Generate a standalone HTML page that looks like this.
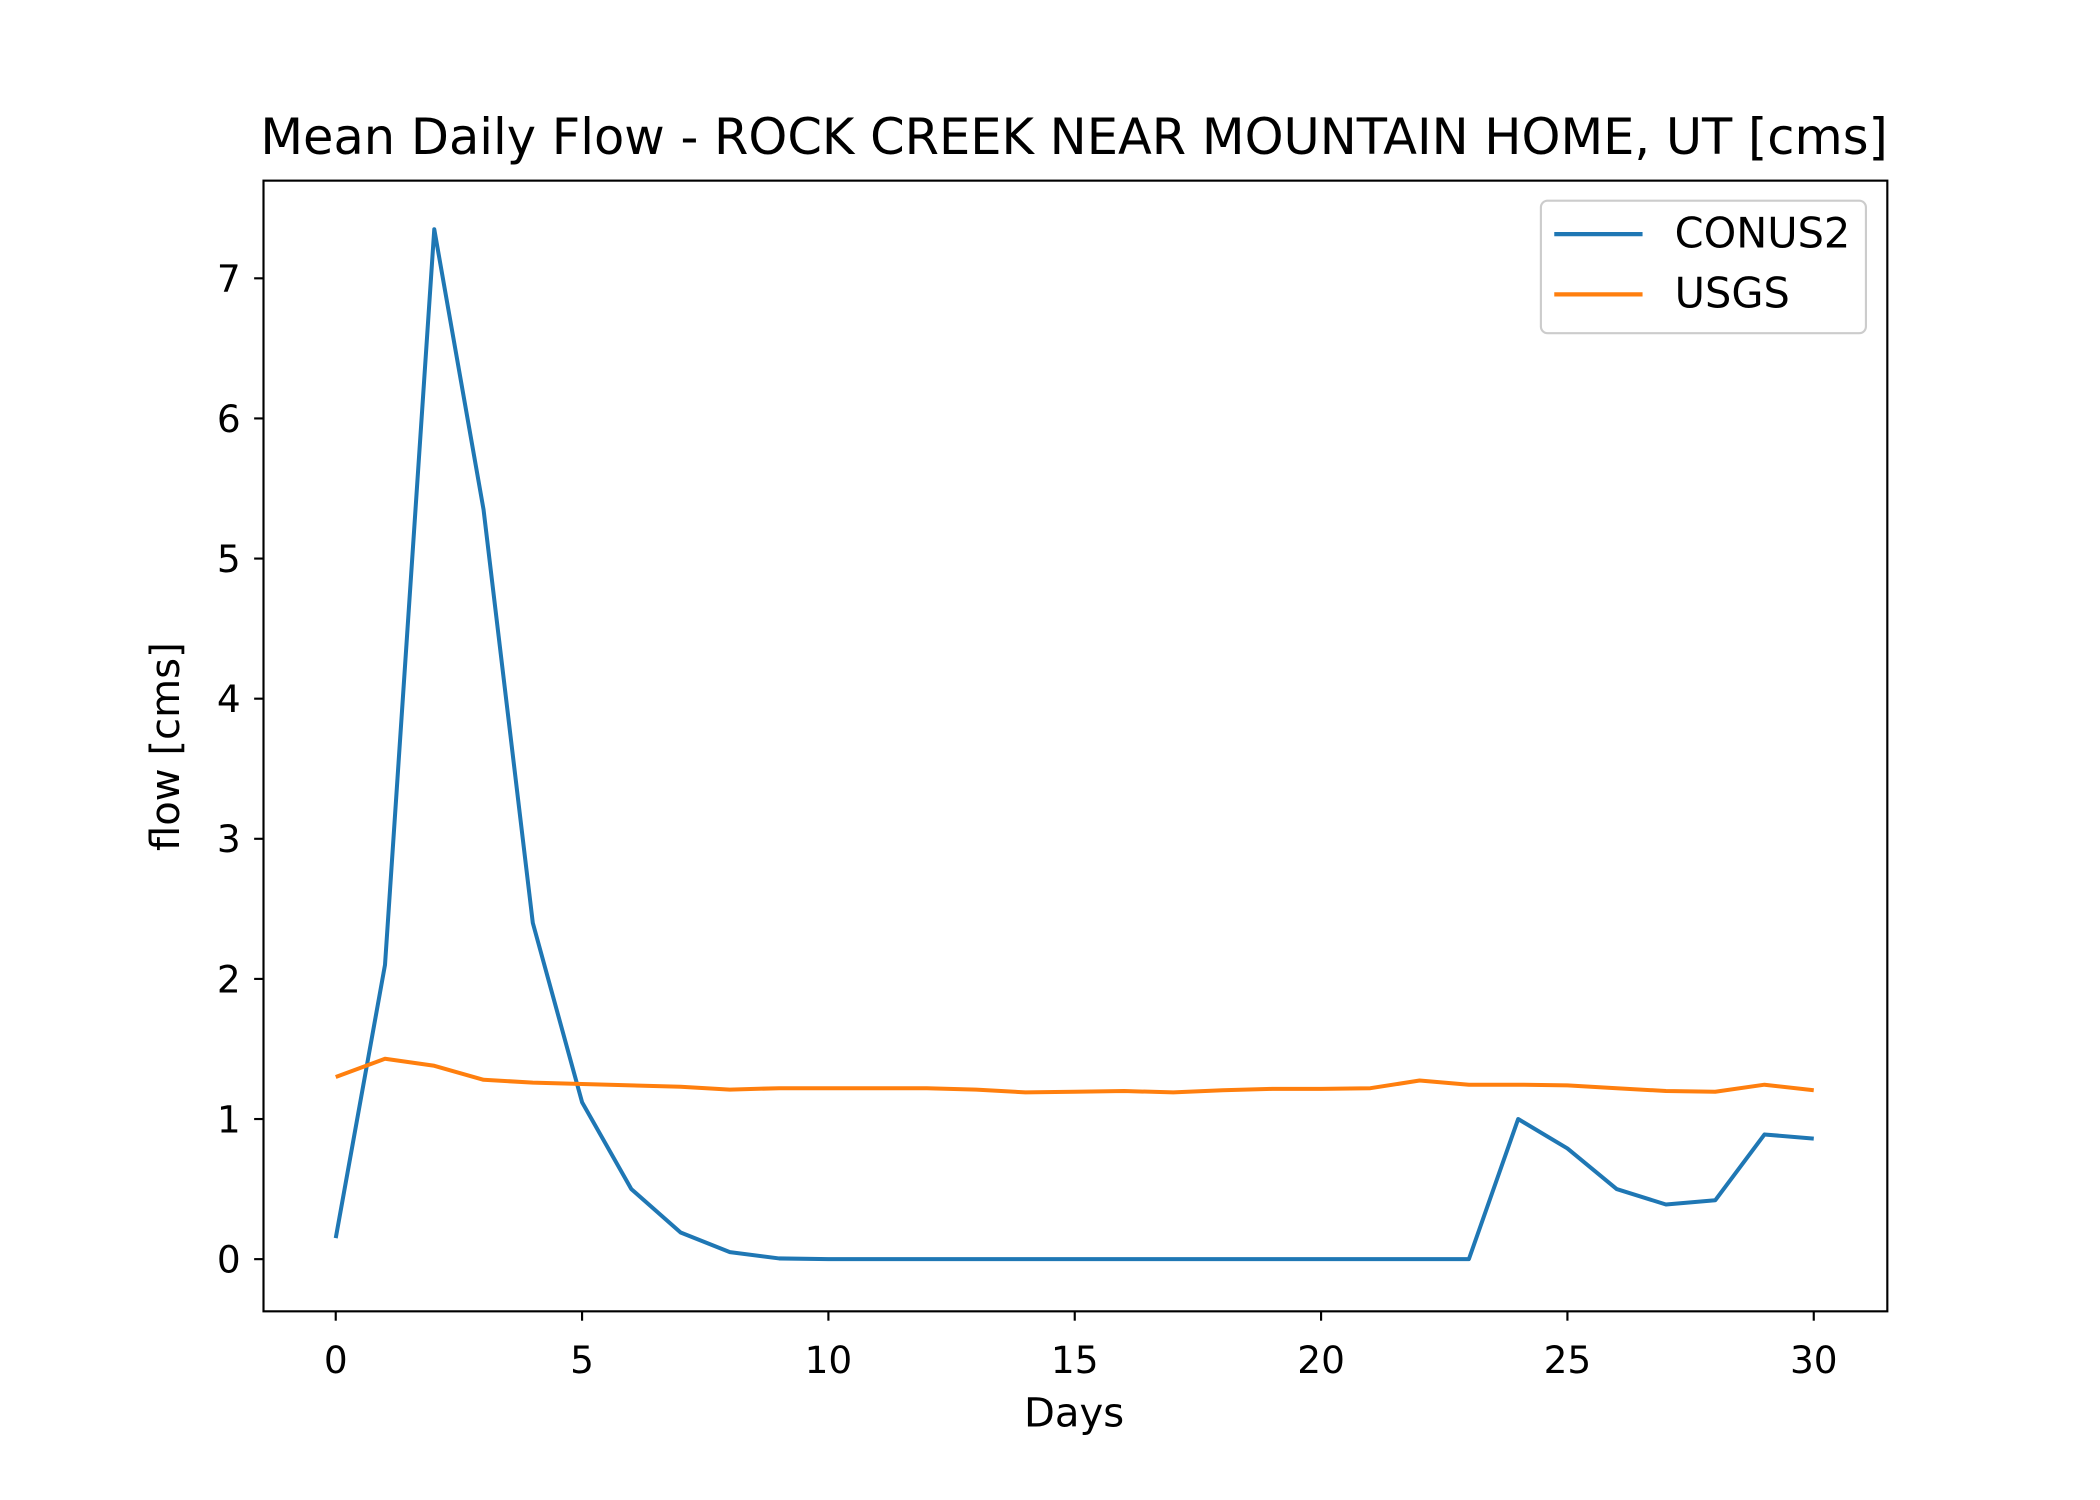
<!DOCTYPE html>
<html><head><meta charset="utf-8"><style>html,body{margin:0;padding:0;background:#fff}svg{display:block}text{font-family:"DejaVu Sans","Liberation Sans",sans-serif;fill:#000}</style></head>
<body>
<svg id="chart" width="2100" height="1500" viewBox="0 0 1570 1121" preserveAspectRatio="none" xmlns="http://www.w3.org/2000/svg">
<rect width="1570" height="1121" fill="#fff"/>
<text x="803" y="115" font-size="37" text-anchor="middle">Mean Daily Flow - ROCK CREEK NEAR MOUNTAIN HOME, UT [cms]</text>
<g id="marks"></g>
<rect x="197" y="135" width="1214" height="845" fill="none" stroke="#000" stroke-width="1.6"/>
<g id="axes"></g>
<text x="803" y="1066" font-size="30" text-anchor="middle">Days</text>
<text transform="translate(134,558) rotate(-90)" font-size="30" text-anchor="middle">flow [cms]</text>
<g>
<rect x="1152" y="150" width="243" height="99" rx="5" fill="#fff" fill-opacity="0.8" stroke="#ccc" stroke-width="1.6"/>
<line x1="1162" y1="175" x2="1228" y2="175" stroke="#1f77b4" stroke-width="3.2"/>
<text x="1252" y="185" font-size="31">CONUS2</text>
<line x1="1162" y1="220" x2="1228" y2="220" stroke="#ff7f0e" stroke-width="3.2"/>
<text x="1252" y="230" font-size="31">USGS</text>
</g>
</svg>
<script>
const days = Array.from({length:31},(_,i)=>i);
const conus2 = [0.15,2.1,7.35,5.35,2.4,1.12,0.5,0.19,0.05,0.005,0,0,0,0,0,0,0,0,0,0,0,0,0,0,1.0,0.79,0.5,0.39,0.42,0.89,0.86];
const usgs = [1.30,1.43,1.38,1.28,1.26,1.25,1.24,1.23,1.21,1.22,1.22,1.22,1.22,1.21,1.19,1.195,1.2,1.19,1.205,1.215,1.215,1.22,1.275,1.245,1.245,1.24,1.22,1.20,1.195,1.245,1.205];
const xTicks = [0,5,10,15,20,25,30];
const yTicks = [0,1,2,3,4,5,6,7];
const X = v => 251 + v*(1356-251)/30;
const Y = v => 941 - v*(941-208)/7;
const NS='http://www.w3.org/2000/svg';
const marks=document.getElementById('marks'), axes=document.getElementById('axes');
function line(vals,color,name){
  const p=document.createElementNS(NS,'polyline');
  p.setAttribute('points',vals.map((v,i)=>X(days[i])+','+Y(v)).join(' '));
  p.setAttribute('fill','none');p.setAttribute('stroke',color);p.setAttribute('stroke-width','3');p.setAttribute('stroke-linejoin','round');
  
  
  marks.appendChild(p);
}
line(conus2,'#1f77b4','conus2-line');
line(usgs,'#ff7f0e','usgs-line');
xTicks.forEach(t=>{
  const l=document.createElementNS(NS,'line');
  l.setAttribute('x1',X(t));l.setAttribute('x2',X(t));l.setAttribute('y1',980);l.setAttribute('y2',987);l.setAttribute('stroke','#000');l.setAttribute('stroke-width','1.6');
  
  
  axes.appendChild(l);
  const tx=document.createElementNS(NS,'text');
  tx.setAttribute('x',X(t));tx.setAttribute('y',1026);tx.setAttribute('font-size','28');tx.setAttribute('text-anchor','middle');tx.textContent=t;
  
  
  axes.appendChild(tx);
});
yTicks.forEach(t=>{
  const l=document.createElementNS(NS,'line');
  l.setAttribute('x1',190);l.setAttribute('x2',197);l.setAttribute('y1',Y(t));l.setAttribute('y2',Y(t));l.setAttribute('stroke','#000');l.setAttribute('stroke-width','1.6');
  
  
  axes.appendChild(l);
  const tx=document.createElementNS(NS,'text');
  tx.setAttribute('x',180);tx.setAttribute('y',Y(t)+10);tx.setAttribute('font-size','28');tx.setAttribute('text-anchor','end');tx.textContent=t;
  
  
  axes.appendChild(tx);
});
</script>
</body></html>
